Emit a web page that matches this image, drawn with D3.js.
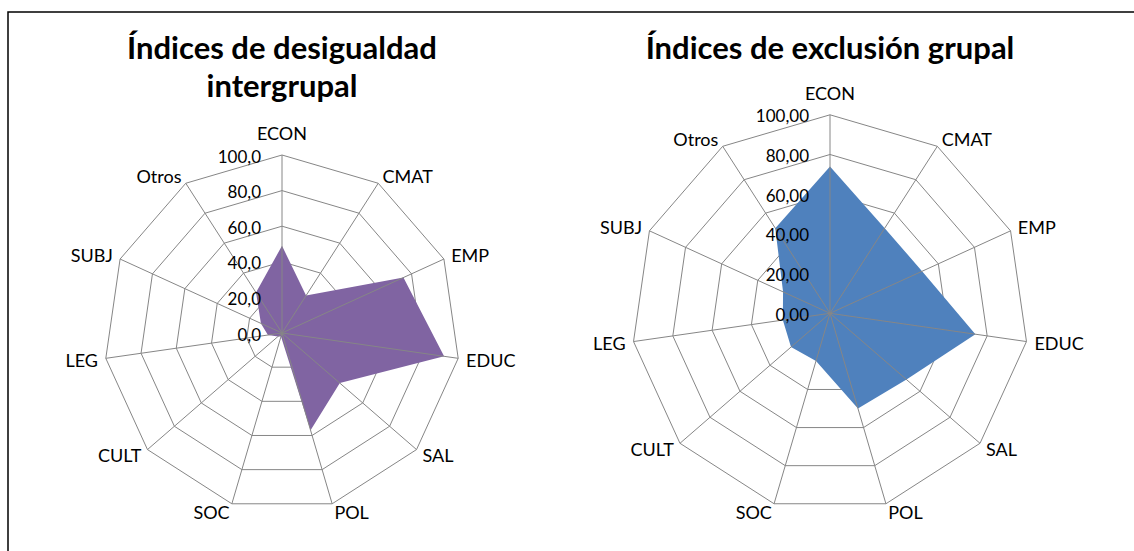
<!DOCTYPE html>
<html>
<head>
<meta charset="utf-8">
<script src="https://cdn.jsdelivr.net/npm/d3@7"></script>
<style>
html,body{margin:0;padding:0;background:#fff;}
svg{display:block;}
text{font-family:Lato,"Open Sans",sans-serif;fill:#000;}
</style>
</head>
<body>
<svg id="chart" width="1134" height="551"></svg>
<script>
// ---- data ----
const categories = ["ECON","CMAT","EMP","EDUC","SAL","POL","SOC","CULT","LEG","SUBJ","Otros"];
const desigualdad = [49,25,75,92,43,57,2,3,8,13,27];
const exclusion = [74,51,51,74,51,50,25,26,24,26,51];
const tickValues = [0,20,40,60,80,100];
const titleLeft = ["Índices de desigualdad","intergrupal"];
const titleRight = ["Índices de exclusión grupal"];

const svg = d3.select("#chart");
svg.append("rect").attr("x",8).attr("y",12).attr("width",1140).attr("height",600)
  .attr("fill","#fff").attr("stroke","#000").attr("stroke-width",1.5);

function radar(cfg){
  const g = svg.append("g").attr("transform",`translate(${cfg.cx},${cfg.cy})`);
  const n = categories.length;
  const ang = d3.scaleLinear().domain([0,n]).range([0,2*Math.PI]);
  const r = d3.scaleLinear().domain([0,100]).range([0,cfg.r]);
  const ringLine = d3.lineRadial().angle((d,i)=>ang(i)).radius(d=>r(d)).curve(d3.curveLinearClosed);
  // rings
  g.selectAll("path.ring").data(tickValues.filter(t=>t>0)).enter().append("path")
    .attr("class","ring")
    .attr("d",t=>ringLine(categories.map(()=>t)))
    .attr("fill","none").attr("stroke","#868686").attr("stroke-width",1);
  // series fill
  g.append("path").attr("d",ringLine(cfg.values)).attr("fill",cfg.color).attr("stroke","none");
  // spokes
  g.selectAll("line.spoke").data(categories).enter().append("line")
    .attr("x1",0).attr("y1",0)
    .attr("x2",(d,i)=>r(100)*Math.sin(ang(i)))
    .attr("y2",(d,i)=>-r(100)*Math.cos(ang(i)))
    .attr("stroke","#868686").attr("stroke-width",1);
  // tick labels
  g.selectAll("text.tick").data(tickValues).enter().append("text")
    .attr("class","tick")
    .attr("x",-21).attr("y",t=>-r(t)+1)
    .attr("text-anchor","end").attr("dominant-baseline","central")
    .style("font-size",cfg.tickSize+"px")
    .text(t=>t.toFixed(cfg.decimals).replace(".",","));
  // category labels
  g.selectAll("text.cat").data(categories).enter().append("text")
    .attr("class","cat")
    .each(function(d,i){
      const a = ang(i), s = Math.sin(a), c = Math.cos(a);
      const vx = r(100)*s, vy = -r(100)*c;
      let lx = vx + s*8, ly = vy - c*9;
      let anchor = "middle";
      if (s > 0.1) anchor = "start"; else if (s < -0.1) anchor = "end";
      if (Math.abs(s) <= 0.1) ly -= 13;
      d3.select(this).attr("x",lx).attr("y",ly).attr("text-anchor",anchor)
        .attr("dominant-baseline","central");
    })
    .style("font-size",cfg.catSize+"px")
    .text(d=>d);
  // title
  svg.selectAll(null).data(cfg.title).enter().append("text")
    .attr("x",cfg.cx).attr("y",(d,i)=>cfg.titleY + i*38)
    .attr("text-anchor","middle").style("font-weight","bold")
    .style("font-size",cfg.titleSize+"px")
    .text(d=>d);
}

radar({cx:282, cy:333, r:178, values:desigualdad, color:"#8064A2", decimals:1,
  title:titleLeft, titleY:59, tickSize:17, catSize:18, titleSize:31});
radar({cx:830, cy:313.3, r:198.5, values:exclusion, color:"#4F81BD", decimals:2,
  title:titleRight, titleY:59, tickSize:17, catSize:18, titleSize:31});
</script>
</body>
</html>
